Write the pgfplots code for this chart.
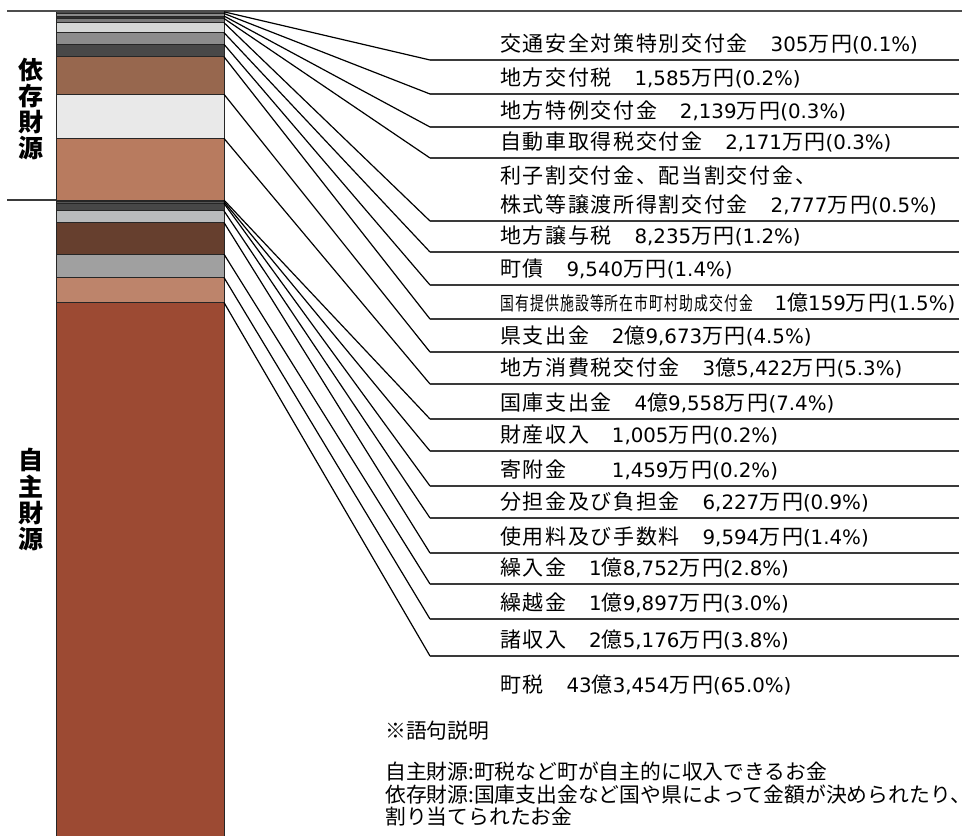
\documentclass[border=0pt]{standalone}
\usepackage{fontspec}
\setmainfont{Noto Sans CJK JP}
\newfontfamily\cjkw{Noto Sans CJK JP}[LetterSpace=8]
\newfontfamily\lat{DejaVu Sans}
\usepackage{graphicx}
\usepackage{pgfplots}
\pgfplotsset{compat=1.18}
\newcommand\dg[1]{{\lat\fontsize{19.8}{24}\selectfont #1}}
\definecolor{c01}{HTML}{3C3C3C}
\definecolor{c02}{HTML}{4A4A4A}
\definecolor{c03}{HTML}{8A8A8A}
\definecolor{c04}{HTML}{2E2E2E}
\definecolor{c05}{HTML}{7A7A7A}
\definecolor{c06}{HTML}{D5D7D6}
\definecolor{c07}{HTML}{8C8C8C}
\definecolor{c08}{HTML}{484848}
\definecolor{c09}{HTML}{97674E}
\definecolor{c10}{HTML}{E9E9E9}
\definecolor{c11}{HTML}{B87B5F}
\definecolor{c12}{HTML}{2A2A2A}
\definecolor{c13}{HTML}{555555}
\definecolor{c14}{HTML}{474747}
\definecolor{c15}{HTML}{B9BBBC}
\definecolor{c16}{HTML}{663F2E}
\definecolor{c17}{HTML}{A0A0A0}
\definecolor{c18}{HTML}{BD846B}
\definecolor{c19}{HTML}{9C4A33}
\definecolor{rule}{HTML}{4D4D4D}
\definecolor{ul}{HTML}{3A3A3A}
\begin{document}
\begin{tikzpicture}
\useasboundingbox (0,0) rectangle (962pt,836pt);
\clip (0,0) rectangle (962pt,836pt);
\begin{axis}[at={(0,0)}, anchor=south west, scale only axis,
  width=962pt, height=836pt, xmin=0, xmax=962, ymin=-1.3205, ymax=99.04,
  y dir=reverse, hide axis, ybar stacked, bar width=168pt, clip=false,
  every axis plot/.append style={draw=black!85, line width=0.9pt}]
% 依存財源 (top to bottom)
\addplot[fill=c01] coordinates {(140,0.1)};
\addplot[fill=c02] coordinates {(140,0.2)};
\addplot[fill=c03] coordinates {(140,0.3)};
\addplot[fill=c04] coordinates {(140,0.3)};
\addplot[fill=c05] coordinates {(140,0.5)};
\addplot[fill=c06] coordinates {(140,1.2)};
\addplot[fill=c07] coordinates {(140,1.4)};
\addplot[fill=c08] coordinates {(140,1.5)};
\addplot[fill=c09] coordinates {(140,4.5)};
\addplot[fill=c10] coordinates {(140,5.3)};
\addplot[fill=c11] coordinates {(140,7.4)};
% 自主財源
\addplot[fill=c12] coordinates {(140,0.2)};
\addplot[fill=c13] coordinates {(140,0.2)};
\addplot[fill=c14] coordinates {(140,0.9)};
\addplot[fill=c15] coordinates {(140,1.4)};
\addplot[fill=c16] coordinates {(140,3.8)};
\addplot[fill=c17] coordinates {(140,2.8)};
\addplot[fill=c18] coordinates {(140,3.0)};
\addplot[fill=c19] coordinates {(140,65.0)};
% leader line start points (segment bottoms, cumulative %)
\coordinate (s1) at (axis cs:224,0.1);
\coordinate (s2) at (axis cs:224,0.3);
\coordinate (s3) at (axis cs:224,0.6);
\coordinate (s4) at (axis cs:224,0.9);
\coordinate (s5) at (axis cs:224,1.4);
\coordinate (s6) at (axis cs:224,2.6);
\coordinate (s7) at (axis cs:224,4.0);
\coordinate (s8) at (axis cs:224,5.5);
\coordinate (s9) at (axis cs:224,10.0);
\coordinate (s10) at (axis cs:224,15.3);
\coordinate (s11) at (axis cs:224,22.7);
\coordinate (s12) at (axis cs:224,22.9);
\coordinate (s13) at (axis cs:224,23.1);
\coordinate (s14) at (axis cs:224,24.0);
\coordinate (s15) at (axis cs:224,25.4);
\coordinate (s16) at (axis cs:224,29.2);
\coordinate (s17) at (axis cs:224,32.0);
\coordinate (s18) at (axis cs:224,35.0);
\end{axis}
\begin{scope}[x=1pt, y=-1pt, yshift=836pt]
% rules
\draw[rule, line width=1.4pt] (7,11) -- (962,11);
\draw[ul, line width=1.2pt] (7,200) -- (56,200);
% leader lines and underlines
\foreach \i/\u in {1/60,2/94,3/127,4/158,5/221,6/252,7/285,8/319,9/352,10/384,11/419,12/451,13/486,14/518,15/553,16/584,17/619,18/656}{
  \draw[black, line width=1.2pt] (s\i) -- (430,\u);
  \draw[ul, line width=1.4pt] (430,\u) -- (959,\u);
}
% vertical labels
\begin{scope}[every node/.style={font=\fontsize{25}{26}\selectfont\bfseries, inner sep=0}]
\node at (31,70) {依};
\node at (31,96) {存};
\node at (31,122.5) {財};
\node at (31,148.5) {源};
\node at (31,460) {自};
\node at (31,486.5) {主};
\node at (31,513.5) {財};
\node at (31,539.5) {源};
\end{scope}
% item labels
\begin{scope}[every node/.style={anchor=base west, inner sep=0, font=\cjkw\fontsize{21}{25}\selectfont}]
\node at (500,52) {交通安全対策特別交付金　\dg{305}万円\dg{(0.1\%)}};
\node at (500,86) {地方交付税　\dg{1,585}万円\dg{(0.2\%)}};
\node at (500,119) {地方特例交付金　\dg{2,139}万円\dg{(0.3\%)}};
\node at (500,150) {自動車取得税交付金　\dg{2,171}万円\dg{(0.3\%)}};
\node at (500,184) {利子割交付金、配当割交付金、};
\node at (500,213) {株式等譲渡所得割交付金　\dg{2,777}万円\dg{(0.5\%)}};
\node at (500,244) {地方譲与税　\dg{8,235}万円\dg{(1.2\%)}};
\node at (500,277) {町債　\dg{9,540}万円\dg{(1.4\%)}};
\node at (500,311) {\scalebox{0.66}[0.9]{国有提供施設等所在市町村助成交付金}　\dg{1}億\dg{159}万円\dg{(1.5\%)}};
\node at (500,344) {県支出金　\dg{2}億\dg{9,673}万円\dg{(4.5\%)}};
\node at (500,376) {地方消費税交付金　\dg{3}億\dg{5,422}万円\dg{(5.3\%)}};
\node at (500,411) {国庫支出金　\dg{4}億\dg{9,558}万円\dg{(7.4\%)}};
\node at (500,443) {財産収入　\dg{1,005}万円\dg{(0.2\%)}};
\node at (500,478) {寄附金　　\dg{1,459}万円\dg{(0.2\%)}};
\node at (500,510) {分担金及び負担金　\dg{6,227}万円\dg{(0.9\%)}};
\node at (500,545) {使用料及び手数料　\dg{9,594}万円\dg{(1.4\%)}};
\node at (500,576) {繰入金　\dg{1}億\dg{8,752}万円\dg{(2.8\%)}};
\node at (500,611) {繰越金　\dg{1}億\dg{9,897}万円\dg{(3.0\%)}};
\node at (500,648) {諸収入　\dg{2}億\dg{5,176}万円\dg{(3.8\%)}};
\node at (500,693) {町税　\dg{43}億\dg{3,454}万円\dg{(65.0\%)}};
\end{scope}
% notes
\begin{scope}[every node/.style={anchor=base west, inner sep=0, font=\fontsize{20.8}{24}\selectfont}]
\node at (385,739) {※語句説明};
\node at (385,780) {自主財源:町税など町が自主的に収入できるお金};
\node at (385,803) {依存財源:国庫支出金など国や県によって金額が決められたり、};
\node at (385,825) {割り当てられたお金};
\end{scope}
\end{scope}
\end{tikzpicture}
\end{document}
